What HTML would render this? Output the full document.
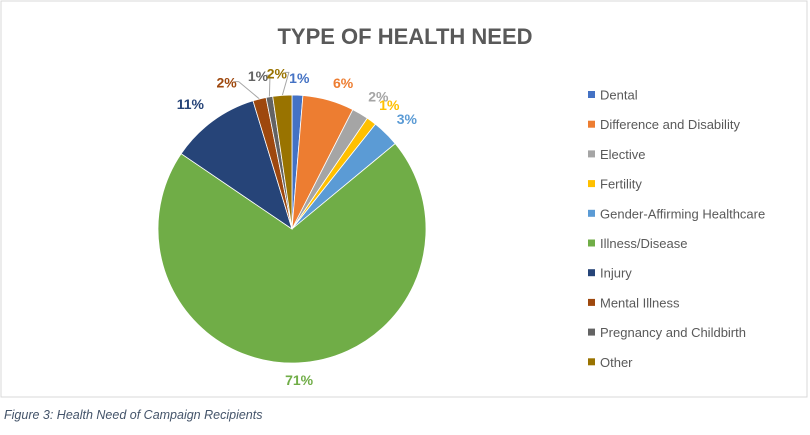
<!DOCTYPE html>
<html><head><meta charset="utf-8"><style>
body{margin:0;background:#fff;width:810px;height:430px;overflow:hidden;font-family:"Liberation Sans",sans-serif}
svg text{font-family:"Liberation Sans",sans-serif}
</style></head><body>
<svg width="810" height="430">
<rect x="1" y="1" width="806" height="396" fill="#fff" stroke="#d9d9d9"/>
<text x="405" y="44" text-anchor="middle" font-size="22" font-weight="bold" fill="#595959">TYPE OF HEALTH NEED</text>
<g id="leaders"></g><g id="slices"></g><g id="labels"></g><g id="legend"></g>
<text x="4" y="419" font-size="12.5" font-style="italic" fill="#44546a">Figure 3: Health Need of Campaign Recipients</text>
</svg>
<script>
const categories=["Dental","Difference and Disability","Elective","Fertility","Gender-Affirming Healthcare","Illness/Disease","Injury","Mental Illness","Pregnancy and Childbirth","Other"];
const values=[1.3,6.2,2.0,1.2,3.3,70.5,10.8,1.6,0.8,2.3];
const labels=["1%","6%","2%","1%","3%","71%","11%","2%","1%","2%"];
const colors=["#4472c4","#ed7d31","#a5a5a5","#ffc000","#5b9bd5","#70ad47","#264478","#9e480e","#636363","#997300"];
// label layout nudges (px)
const nudgeX=[1,8,8,6,7,0,-8,-28,-8,-4];
const nudgeY=[3,6,0,0,0,0,2,3,-1,-2];
const leader=[false,false,false,false,false,false,false,true,true,true];
const ns="http://www.w3.org/2000/svg";
const cx=292,cy=229,r=134;
const total=values.reduce((a,b)=>a+b,0);
const sg=document.getElementById('slices'),lg=document.getElementById('labels'),leg=document.getElementById('legend'),ld=document.getElementById('leaders');
function pt(a,rr){return [cx+rr*Math.sin(a),cy-rr*Math.cos(a)];}
let acc=0;
values.forEach((v,i)=>{
 const a0=acc/total*2*Math.PI;acc+=v;const a1=acc/total*2*Math.PI;
 const p0=pt(a0,r),p1=pt(a1,r);
 const p=document.createElementNS(ns,'path');
 p.setAttribute('d',`M${cx},${cy}L${p0[0]},${p0[1]}A${r},${r} 0 ${a1-a0>Math.PI?1:0} 1 ${p1[0]},${p1[1]}Z`);
 p.setAttribute('fill',colors[i]);p.setAttribute('stroke','#fff');p.setAttribute('stroke-width','0.8');
 
 
 sg.appendChild(p);
 const am=(a0+a1)/2;
 const lr=v<4?r+20:(v>50?r+17:r+24);
 const lp=pt(am,lr);
 const tx=lp[0]+nudgeX[i],ty=lp[1]+5+nudgeY[i];
 if(leader[i]){
  const e=pt(am,r);
  const l=document.createElementNS(ns,'polyline');
  l.setAttribute('points',`${tx+8},${ty-6} ${tx+12},${ty-6} ${e[0]},${e[1]}`);
  l.setAttribute('fill','none');l.setAttribute('stroke','#a6a6a6');l.setAttribute('stroke-width','1');
  
  
  ld.appendChild(l);
 }
 const t=document.createElementNS(ns,'text');
 t.setAttribute('x',tx);t.setAttribute('y',ty);
 t.setAttribute('text-anchor','middle');t.setAttribute('font-size','14');t.setAttribute('font-weight','bold');
 t.setAttribute('fill',colors[i]);t.textContent=labels[i];
 
 
 lg.appendChild(t);
 const y=95+i*29.7;
 const s=document.createElementNS(ns,'rect');
 s.setAttribute('x',588);s.setAttribute('y',y-4);s.setAttribute('width',7);s.setAttribute('height',7);s.setAttribute('fill',colors[i]);
 
 
 leg.appendChild(s);
 const lt=document.createElementNS(ns,'text');
 lt.setAttribute('x',600);lt.setAttribute('y',y+4.5);lt.setAttribute('font-size','13');lt.setAttribute('fill','#595959');
 lt.textContent=categories[i];
 
 
 leg.appendChild(lt);
});
</script>
</body></html>
